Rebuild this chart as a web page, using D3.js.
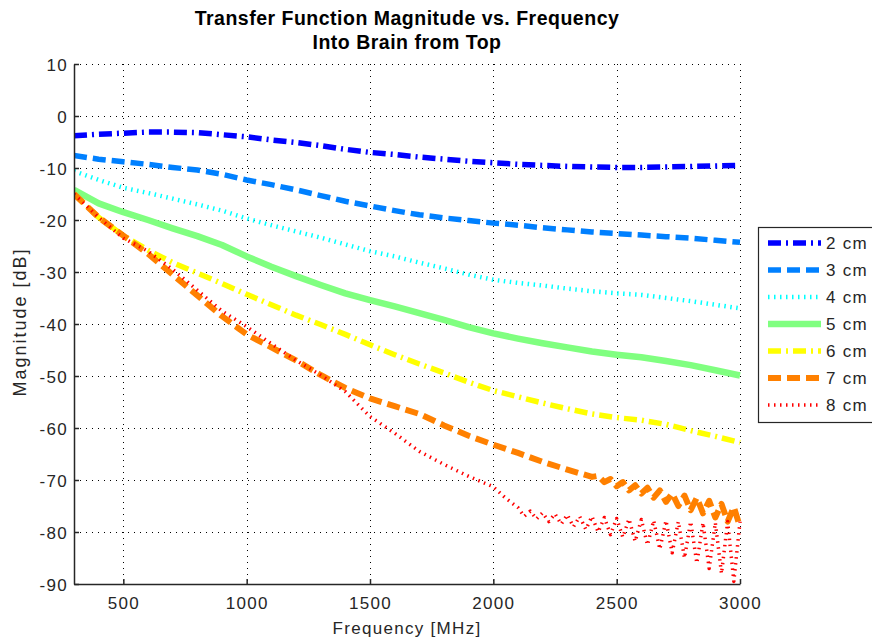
<!doctype html>
<html>
<head>
  <meta charset="utf-8">
  <title>Transfer Function Magnitude vs. Frequency</title>
  <style>
    body { margin: 0; background: #fff; }
    svg { display: block; font-family: "Liberation Sans", Arial, sans-serif; }
    .tick-label { font-size: 17px; letter-spacing: 1.3px; fill: #262626; }
  </style>
</head>
<body>
  <div id="chart"></div>
  <script src="https://cdn.jsdelivr.net/npm/d3@7"></script>
  <script>
    // values
    const freq = [300, 400, 500, 600, 700, 800, 900, 1000, 1100, 1200, 1300, 1400, 1500, 1600,
      1700, 1800, 1900, 2000, 2100, 2200, 2300, 2400, 2500, 2600, 2700, 2800, 2900, 3000];

    const mag2 = [-3.8, -3.5, -3.3, -3.1, -3.1, -3.2, -3.6, -4, -4.6, -5.1, -5.7, -6.4, -7, -7.4,
      -7.9, -8.3, -8.7, -9, -9.3, -9.5, -9.7, -9.8, -9.9, -9.9, -9.8, -9.7, -9.6, -9.5];
    const mag3 = [-7.6, -8.3, -8.8, -9.3, -9.9, -10.4, -11.2, -12.3, -13.2, -14.2, -15.3, -16.4, -17.3, -18.2,
      -19, -19.6, -20.1, -20.6, -21, -21.5, -21.9, -22.3, -22.6, -22.9, -23.2, -23.5, -23.9, -24.3];
    const mag4 = [-10.6, -12.3, -13.8, -14.8, -15.9, -17, -18.2, -19.7, -21, -22.2, -23.4, -24.7, -26, -27,
      -28.2, -29.3, -30.5, -31.5, -32.1, -32.6, -33.2, -33.7, -34.1, -34.4, -35, -35.6, -36.3, -37];
    const mag5 = [-14.2, -16.8, -18.5, -20, -21.6, -23.1, -24.8, -27, -29, -30.8, -32.5, -34.1, -35.4, -36.6,
      -37.9, -39.2, -40.6, -41.8, -42.8, -43.7, -44.5, -45.3, -45.9, -46.4, -47.1, -47.9, -48.9, -49.9];
    const mag6 = [-15, -19.5, -23, -25.8, -28.2, -30.2, -32.2, -34.3, -36.3, -38.3, -40.1, -42, -44, -45.9,
      -47.7, -49.4, -51.2, -52.8, -54, -55.2, -56.3, -57.3, -58, -58.5, -59.3, -60.5, -61.6, -62.8];

    // 7 cm and 8 cm get noisy at high frequency, so they carry their own frequency lists
    const freq7 = [300, 400, 500, 600, 700, 800, 900, 1000, 1100, 1200, 1300, 1400, 1500, 1600,
      1700, 1800, 1900, 2000, 2100, 2200, 2300, 2400, 2425, 2450, 2475, 2500, 2525, 2550, 2575,
      2600, 2625, 2650, 2675, 2700, 2725, 2750, 2775, 2800, 2825, 2850, 2875, 2900, 2925, 2950, 2975, 3000];
    const mag7 = [-15, -19.5, -23, -26.5, -30.5, -34.5, -38.5, -42, -44.5, -47, -49.8, -52.3, -54.3, -55.8,
      -57.3, -59.5, -61.5, -63.2, -64.8, -66.5, -68, -69.4, -69.2, -70.4, -69.8, -71.2, -70.4, -72, -71,
      -72.6, -71.5, -73.4, -72, -74.2, -72.6, -75, -73, -75.8, -73.4, -76.4, -74, -77.2, -74.6, -78, -75.2, -79];

    const freq8 = [300, 400, 500, 600, 700, 800, 900, 1000, 1100, 1200, 1300, 1400, 1500, 1600,
      1700, 1800, 1900, 2000, 2050, 2100, 2125, 2150, 2175, 2200, 2225, 2250, 2275, 2300, 2325, 2350,
      2375, 2400, 2425, 2450, 2475, 2500, 2525, 2550, 2575, 2600, 2625, 2650, 2675, 2700, 2725, 2750,
      2775, 2800, 2825, 2850, 2875, 2900, 2925, 2950, 2975, 3000];
    const mag8 = [-15, -19.5, -23.5, -26, -29.5, -33.5, -37.5, -40.5, -43.8, -47, -49.8, -53, -57.8, -61,
      -64.5, -67, -69.3, -71.3, -73.5, -75.3, -77, -76, -77.5, -76.3, -78, -76.5, -78.5, -76.7, -79, -77,
      -79.5, -77, -80, -77.2, -80.5, -77.4, -81, -77.5, -81.8, -77.6, -82.5, -77.8, -83.3, -77.8, -84, -78,
      -85, -78, -86, -78.2, -87, -78.2, -88, -78, -89.5, -78];

    const labels = ['2 cm', '3 cm', '4 cm', '5 cm', '6 cm', '7 cm', '8 cm'];
    const xTicks = [500, 1000, 1500, 2000, 2500, 3000];
    const yTicks = [10, 0, -10, -20, -30, -40, -50, -60, -70, -80, -90];

    const series = [
      { x: freq, y: mag2, color: '#0000ff', width: 5.5, dash: '13,5,2,5' },
      { x: freq, y: mag3, color: '#0080ff', width: 5.5, dash: '13,6' },
      { x: freq, y: mag4, color: '#00ffff', width: 4.5, dash: '1.5,4.5' },
      { x: freq, y: mag5, color: '#80ff80', width: 6.5, dash: null },
      { x: freq, y: mag6, color: '#ffff00', width: 5.5, dash: '13,5,2,5' },
      { x: freq7, y: mag7, color: '#ff8000', width: 6, dash: '13,6' },
      { x: freq8, y: mag8, color: '#ff0000', width: 3.5, dash: '1.5,4.5' }
    ];

    const W = 872, H = 641;
    const margin = { left: 74, right: 132, top: 64, bottom: 57 };

    const svg = d3.select('#chart').append('svg').attr('width', W).attr('height', H);

    const x = d3.scaleLinear().domain([300, 3000]).range([margin.left, W - margin.right]);
    const y = d3.scaleLinear().domain([-90, 10]).range([H - margin.bottom, margin.top]);

    // grid
    const grid = svg.append('g').attr('stroke', '#000').attr('stroke-width', 1)
      .attr('stroke-dasharray', '1,5').attr('shape-rendering', 'crispEdges');
    grid.selectAll('.gx').data(xTicks).join('line')
      .attr('x1', d => Math.round(x(d)) + 0.5).attr('x2', d => Math.round(x(d)) + 0.5)
      .attr('y1', y(10)).attr('y2', y(-90));
    grid.selectAll('.gy').data(yTicks).join('line')
      .attr('y1', d => Math.round(y(d)) + 0.5).attr('y2', d => Math.round(y(d)) + 0.5)
      .attr('x1', x(300)).attr('x2', x(3000));

    // curves
    svg.append('clipPath').attr('id', 'plot-clip').append('rect')
      .attr('x', x(300)).attr('y', y(10) - 4).attr('width', x(3000) - x(300) + 4).attr('height', y(-90) - y(10) + 8);

    const line = d3.line().x(d => x(d[0])).y(d => y(d[1]));
    svg.append('g').attr('clip-path', 'url(#plot-clip)')
      .selectAll('path').data(series).join('path')
      .attr('d', s => line(s.x.map((f, i) => [f, s.y[i]])))
      .attr('fill', 'none')
      .attr('stroke', s => s.color)
      .attr('stroke-width', s => s.width)
      .attr('stroke-dasharray', s => s.dash)
      .attr('stroke-linejoin', 'round');

    // axes (left and bottom only, ticks pointing inward)
    const fmt = d => String(d);
    const xAxis = svg.append('g').attr('transform', `translate(0,${y(-90)})`)
      .call(d3.axisBottom(x).tickValues(xTicks).tickFormat(fmt).tickSize(-5).tickPadding(10).tickSizeOuter(0));
    const yAxis = svg.append('g').attr('transform', `translate(${x(300)},0)`)
      .call(d3.axisLeft(y).tickValues(yTicks).tickFormat(fmt).tickSize(-5).tickPadding(6).tickSizeOuter(0));
    [xAxis, yAxis].forEach(a => {
      a.select('.domain').attr('stroke', '#262626').attr('stroke-width', 1.5);
      a.selectAll('.tick line').attr('stroke', '#262626').attr('stroke-width', 1.5);
      a.selectAll('.tick text').attr('class', 'tick-label').attr('font-family', null).attr('font-size', null);
    });
    xAxis.selectAll('.tick text').attr('dy', '0.9em');
    yAxis.selectAll('.tick text').attr('dy', '0.36em');

    // title and axis labels
    svg.append('text').attr('x', x(1650)).attr('y', 25).attr('text-anchor', 'middle')
      .attr('font-size', 19.5).attr('font-weight', 'bold').attr('letter-spacing', 0.5)
      .text('Transfer Function Magnitude vs. Frequency');
    svg.append('text').attr('x', x(1650)).attr('y', 49).attr('text-anchor', 'middle')
      .attr('font-size', 19.5).attr('font-weight', 'bold').attr('letter-spacing', 0.5)
      .text('Into Brain from Top');
    svg.append('text').attr('class', 'tick-label').attr('x', x(1650)).attr('y', 634)
      .attr('text-anchor', 'middle').text('Frequency [MHz]');
    svg.append('text').attr('class', 'tick-label')
      .attr('transform', 'translate(26,322) rotate(-90)')
      .attr('text-anchor', 'middle').style('letter-spacing', '2px').style('font-size', '18px')
      .text('Magnitude [dB]');

    // legend
    const legend = svg.append('g').attr('transform', 'translate(758,227)');
    legend.append('rect').attr('x', 0.5).attr('y', 0.5).attr('width', 120).attr('height', 195)
      .attr('fill', '#fff').attr('stroke', '#262626').attr('stroke-width', 1.2);
    const rows = legend.selectAll('.row').data(series).join('g')
      .attr('transform', (d, i) => `translate(0,${16 + i * 27})`);
    rows.append('line').attr('x1', 10).attr('x2', 63).attr('y1', 0).attr('y2', 0)
      .attr('stroke', d => d.color).attr('stroke-width', d => d.width)
      .attr('stroke-dasharray', d => d.dash);
    rows.append('text').attr('class', 'tick-label').attr('x', 68).attr('dy', '0.36em')
      .text((d, i) => labels[i]);
  </script>
</body>
</html>
